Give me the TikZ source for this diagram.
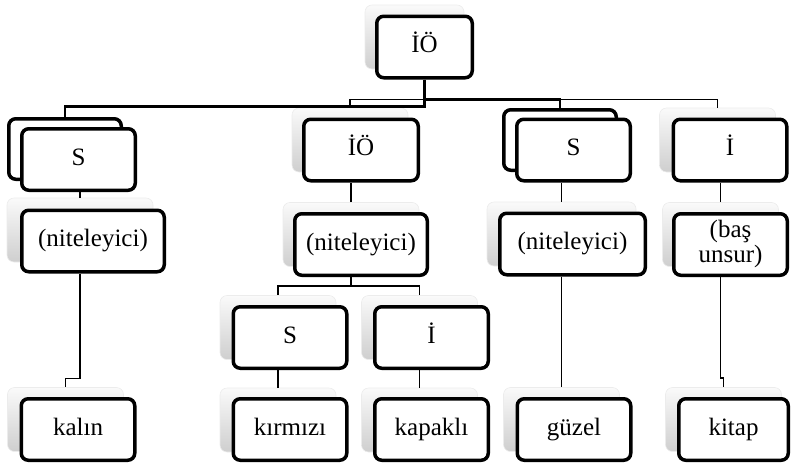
\documentclass[tikz,border=0pt]{standalone}
\usepackage{fontspec}
\setmainfont{Liberation Serif}
\tikzset{
  frontbox/.style={draw,line width=3.5pt,rounded corners=7pt,fill=white,inner sep=0pt,
    minimum width=113.5pt,minimum height=61.5pt,text height=17pt,text depth=5.5pt,
    font=\fontsize{25}{25}\selectfont},
  backbox/.style={draw=gray!15,line width=0.6pt,rounded corners=7pt,top color=gray!4,bottom color=gray!38,
    inner sep=0pt,minimum width=116pt,minimum height=64pt},
  backline/.style={draw,line width=3.5pt,rounded corners=7pt,fill=white,inner sep=0pt,
    minimum width=112.5pt,minimum height=60.5pt},
  conn/.style={line width=1.4pt},
  connthick/.style={line width=2.8pt}
}
\begin{document}
\begin{tikzpicture}[x=1pt,y=-1pt]
  \useasboundingbox (0,0) rectangle (792,466);
  % top
  \node[backbox,minimum width=99pt] (bRoot) at (414.5,37) {};
  \node[frontbox,minimum width=95.5pt] (root) at (424.5,47) {İÖ};
  % first row
  \node[backline] (bS1) at (65,149) {};
  \node[frontbox] (S1) at (78.5,159.5) {S};
  \node[backbox] (bIO2) at (350,140) {};
  \node[frontbox,minimum width=114.5pt] (IO2) at (361,150) {İÖ};
  \node[backline] (bS3) at (560,140) {};
  \node[frontbox] (S3) at (573.5,150) {S};
  \node[backbox] (bI4) at (717.5,140) {};
  \node[frontbox] (I4) at (730,150) {İ};
  % second row
  \node[backbox,minimum width=146pt] (bN1) at (80,230) {};
  \node[frontbox,minimum width=142.5pt] (N1) at (93,241) {(niteleyici)};
  \node[backbox,minimum width=136pt] (bN2) at (351,234.5) {};
  \node[frontbox,minimum width=132.5pt] (N2) at (361,244.5) {(niteleyici)};
  \node[backbox,minimum width=149pt] (bN3) at (561.5,234) {};
  \node[frontbox,minimum width=145.5pt] (N3) at (572.5,244) {(niteleyici)};
  \node[backbox] (bN4) at (720.5,234.5) {};
  \node[frontbox,text height=,text depth=] (N4) at (730.5,244.5) {\begin{tabular}{@{}c@{}}(baş\\unsur)\end{tabular}};
  % third row
  \node[backbox] (bS5) at (278,327.5) {};
  \node[frontbox] (S5) at (290,337.5) {S};
  \node[backbox] (bI6) at (419.5,327.5) {};
  \node[frontbox] (I6) at (431.5,337.5) {İ};
  % words
  \node[backbox] (bkalin) at (65.5,419.5) {};
  \node[frontbox] (kalin) at (78,429.5) {kalın};
  \node[backbox] (bkirmizi) at (278,420) {};
  \node[frontbox] (kirmizi) at (290,429.5) {kırmızı};
  \node[backbox] (bkapakli) at (419.5,420) {};
  \node[frontbox] (kapakli) at (431.5,429.5) {kapaklı};
  \node[backbox] (bguzel) at (561.5,419.5) {};
  \node[frontbox] (guzel) at (574,429.5) {güzel};
  \node[backbox] (bkitap) at (723.5,419.5) {};
  \node[frontbox,minimum width=109.5pt] (kitap) at (733.5,429.5) {kitap};
  % connectors
  \draw[connthick] (root.south) -- ++(0,27) -| (bS1.north);
  \draw[conn] (root.south) -- ++(0,20) -| (bIO2.north);
  \draw[connthick] (root.south) -- ++(0,20) -| (bS3.north);
  \draw[conn] (root.south) -- ++(0,20) -| (bI4.north);
  \draw[conn] (bN1.north) -- (bN1.north |- S1.south);
  \draw[conn] (bN2.north) -- (bN2.north |- IO2.south);
  \draw[conn] (bN3.north) -- (bN3.north |- S3.south);
  \draw[conn] (bN4.north) -- (bN4.north |- I4.south);
  \draw[conn] (bN2.south |- N2.south) -- ++(0,9) -| (bS5.north);
  \draw[conn] (bN2.south |- N2.south) -- ++(0,9) -| (bI6.north);
  \draw[conn] (bkirmizi.north) -- (bkirmizi.north |- S5.south);
  \draw[conn] (bkapakli.north) -- (bkapakli.north |- I6.south);
  \draw[conn] (bN1.south |- N1.south) -- ++(0,105) -| (bkalin.north);
  \draw[conn] (bN3.south |- N3.south) -- ++(0,102) -| (bguzel.north);
  \draw[conn] (bN4.south |- N4.south) -- ++(0,101) -| (bkitap.north);
\end{tikzpicture}
\end{document}
